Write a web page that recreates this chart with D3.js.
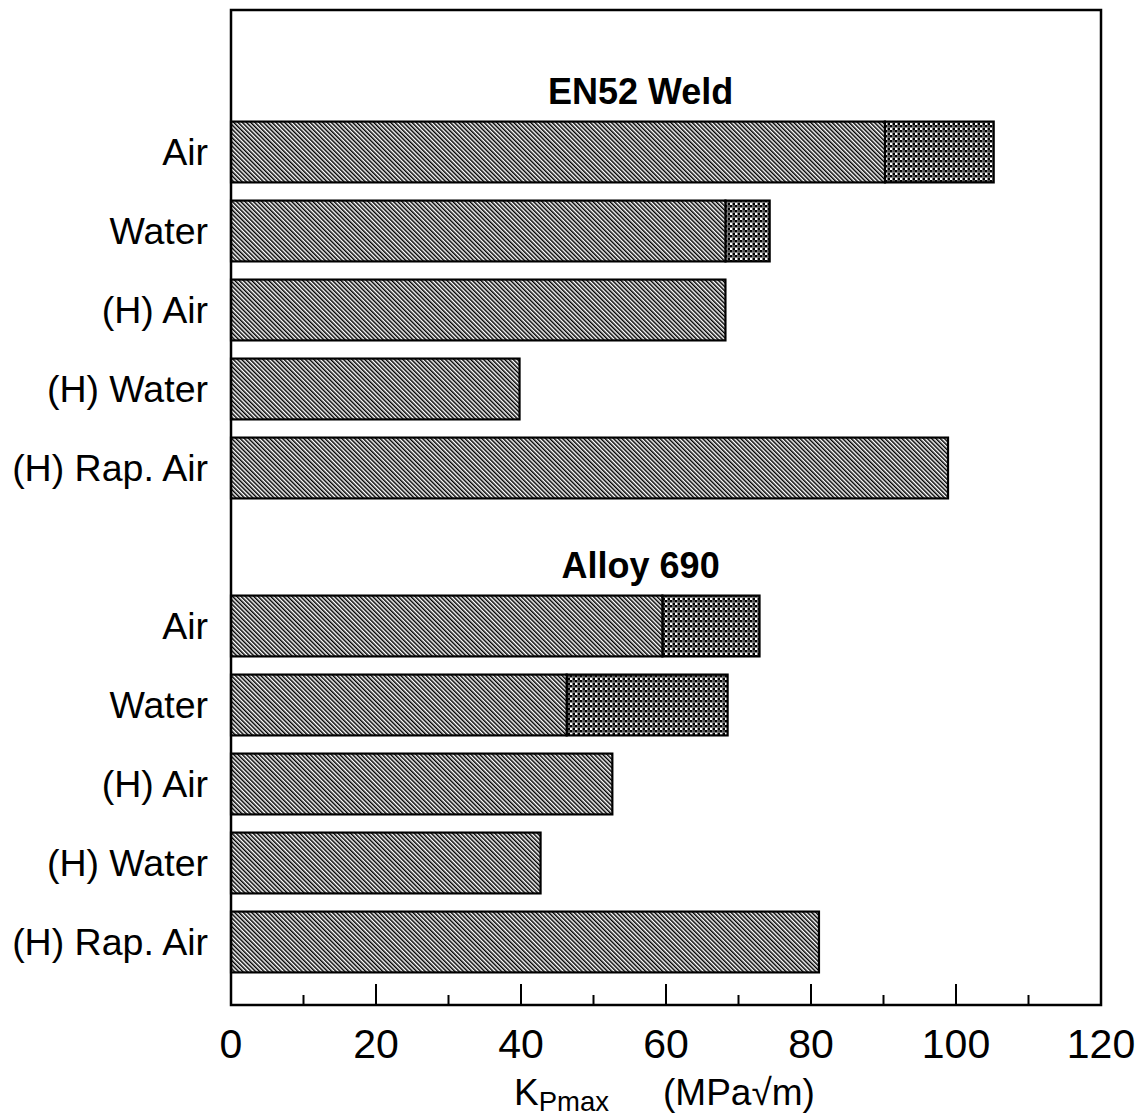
<!DOCTYPE html>
<html>
<head>
<meta charset="utf-8">
<script src="https://cdn.jsdelivr.net/npm/d3@7"></script>
<style>
html,body{margin:0;padding:0;background:#fff;}
svg{display:block;font-family:"Liberation Sans",Arial,Helvetica,sans-serif;}
</style>
</head>
<body>
<svg id="chart" width="1137" height="1116"></svg>
<script>
const groups = ["EN52 Weld", "Alloy 690"];
const categories = ["Air", "Water", "(H) Air", "(H) Water", "(H) Rap. Air"];
// hatched portion (lower value) and total extent (cross-hatched extension)
const en52Lower = [90.2, 68.2, 68.2, 39.8, 98.9];
const en52Upper = [105.2, 74.3, null, null, null];
const alloyLower = [59.5, 46.3, 52.6, 42.7, 81.1];
const alloyUpper = [72.9, 68.5, null, null, null];
const majorTicks = [0, 20, 40, 60, 80, 100, 120];
const minorTicks = [10, 30, 50, 70, 90, 110];

const svg = d3.select("#chart");
const plotLeft = 231, plotRight = 1101, plotTop = 10, plotBottom = 1005;

const x = d3.scaleLinear().domain([0, 120]).range([plotLeft, plotRight]);

const groupData = [
  {name: groups[0], lower: en52Lower, upper: en52Upper},
  {name: groups[1], lower: alloyLower, upper: alloyUpper}
];
const rowKeys = [];
groupData.forEach((g, gi) => {
  rowKeys.push("T" + gi);
  categories.forEach((c, ci) => rowKeys.push(gi + "-" + ci));
});
const y = d3.scaleBand().domain(rowKeys).range([33.5, 981.5]).paddingInner(0.23).paddingOuter(0.115);

// patterns
const defs = svg.append("defs");
const hatch = defs.append("pattern").attr("id", "hatch")
  .attr("patternUnits", "userSpaceOnUse").attr("width", 3).attr("height", 3)
  .attr("patternTransform", "rotate(-45)");
hatch.append("rect").attr("width", 3).attr("height", 3).attr("fill", "#fff");
hatch.append("rect").attr("width", 1.5).attr("height", 3).attr("fill", "#000");

const cross = defs.append("pattern").attr("id", "cross")
  .attr("patternUnits", "userSpaceOnUse").attr("width", 5).attr("height", 5);
cross.append("rect").attr("width", 5).attr("height", 5).attr("fill", "#fff");
cross.append("rect").attr("width", 2.5).attr("height", 2.5).attr("fill", "#000");
cross.append("rect").attr("x", 2.5).attr("y", 2.5).attr("width", 2.5).attr("height", 2.5).attr("fill", "#000");
cross.append("rect").attr("x", 2.5).attr("y", 0).attr("width", 2.5).attr("height", 2.5).attr("fill", "#555");

// bars
groupData.forEach((g, gi) => {
  const rows = categories.map((c, ci) => ({key: gi + "-" + ci, cat: c, lo: g.lower[ci], hi: g.upper[ci]}));
  const gg = svg.append("g");
  gg.selectAll("rect.up").data(rows.filter(d => d.hi != null)).enter().append("rect")
    .attr("x", d => x(d.lo)).attr("y", d => y(d.key))
    .attr("width", d => x(d.hi) - x(d.lo)).attr("height", y.bandwidth())
    .attr("fill", "url(#cross)").attr("stroke", "#000").attr("stroke-width", 2.2);
  gg.selectAll("rect.lo").data(rows).enter().append("rect")
    .attr("x", x(0)).attr("y", d => y(d.key))
    .attr("width", d => x(d.lo) - x(0)).attr("height", y.bandwidth())
    .attr("fill", "url(#hatch)").attr("stroke", "#000").attr("stroke-width", 2.2);
  gg.selectAll("text.cat").data(rows).enter().append("text")
    .attr("x", 208).attr("y", d => y(d.key) + y.bandwidth() / 2 + 13)
    .attr("text-anchor", "end").attr("font-size", 37.5).attr("fill", "#000")
    .text(d => d.cat);
  svg.append("text")
    .attr("x", x(56.5)).attr("y", y("T" + gi) + y.step() / 2 + 22)
    .attr("text-anchor", "middle").attr("font-size", 36).attr("font-weight", "bold")
    .text(g.name);
});

// frame
svg.append("rect").attr("x", plotLeft).attr("y", plotTop).attr("width", plotRight - plotLeft).attr("height", plotBottom - plotTop)
  .attr("fill", "none").attr("stroke", "#000").attr("stroke-width", 2.5);

// ticks (inward)
svg.selectAll("line.major").data(majorTicks.slice(1, -1)).enter().append("line")
  .attr("x1", d => x(d)).attr("x2", d => x(d)).attr("y1", plotBottom).attr("y2", plotBottom - 21)
  .attr("stroke", "#000").attr("stroke-width", 2);
svg.selectAll("line.minor").data(minorTicks).enter().append("line")
  .attr("x1", d => x(d)).attr("x2", d => x(d)).attr("y1", plotBottom).attr("y2", plotBottom - 10)
  .attr("stroke", "#000").attr("stroke-width", 2);
svg.selectAll("text.tick").data(majorTicks).enter().append("text")
  .attr("x", d => x(d)).attr("y", 1058).attr("text-anchor", "middle")
  .attr("font-size", 41).text(d => d);

// axis title
const xt = svg.append("text").attr("x", 514).attr("y", 1105).attr("font-size", 37);
xt.append("tspan").text("K");
xt.append("tspan").attr("font-size", 27.5).attr("dy", 6).text("Pmax");
xt.append("tspan").attr("dy", -6).attr("dx", 54).text("(MPa\u221Am)");
</script>
</body>
</html>
